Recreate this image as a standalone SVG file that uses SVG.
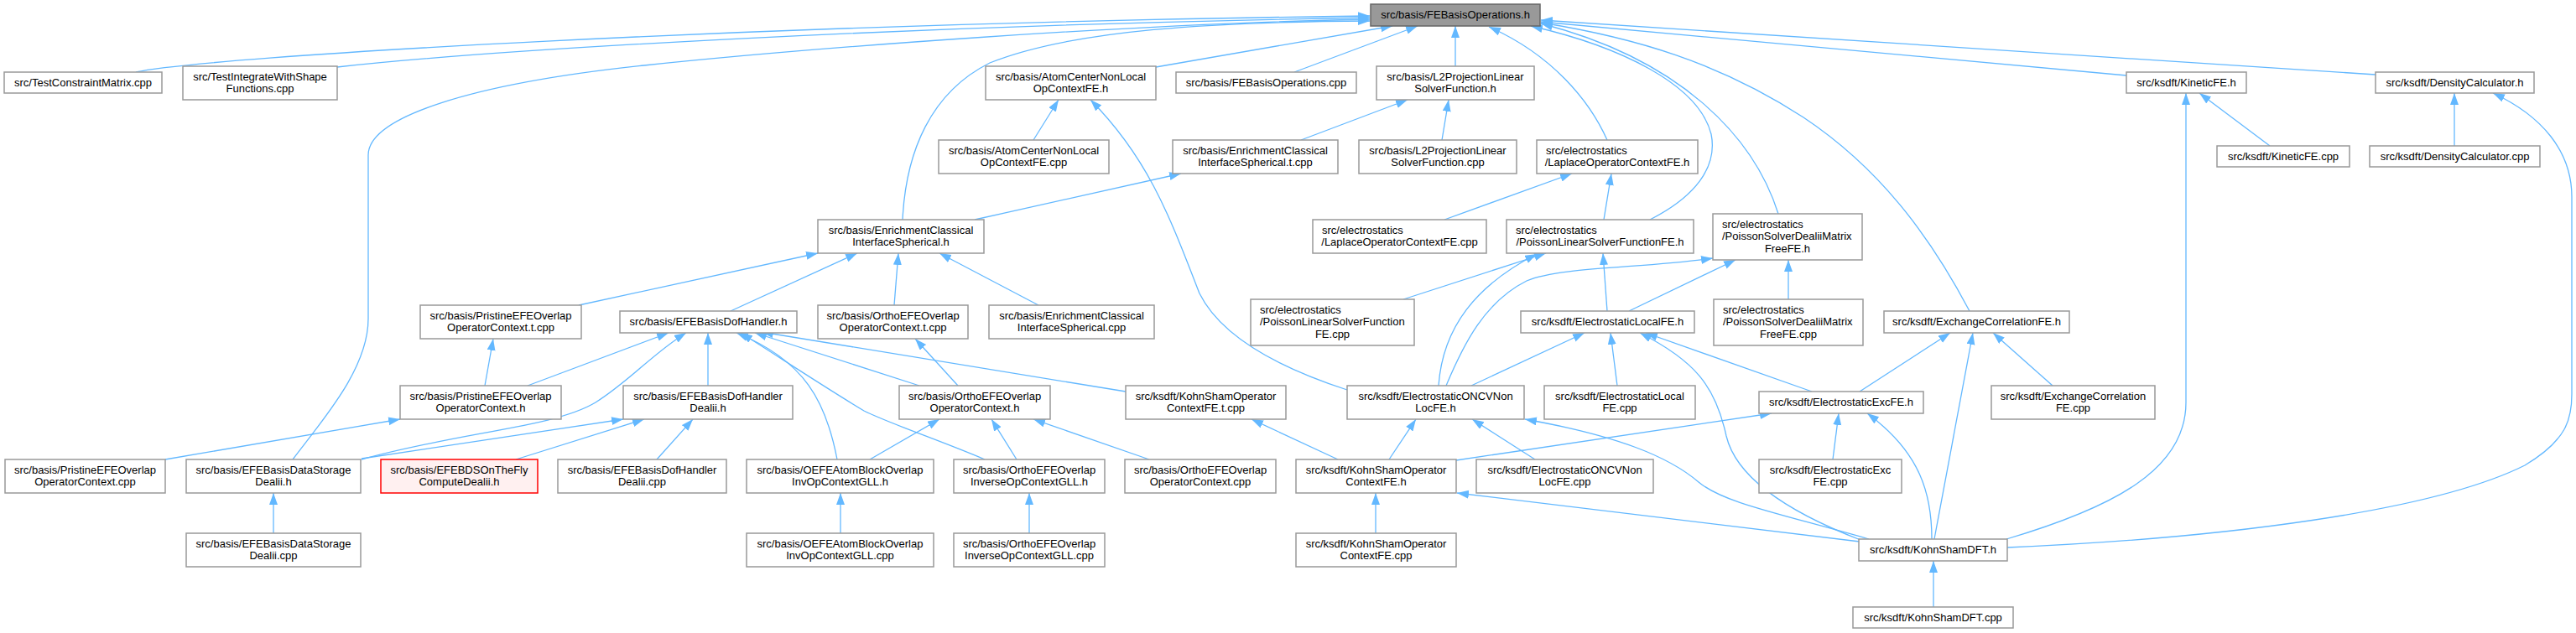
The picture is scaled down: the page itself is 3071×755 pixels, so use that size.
<svg xmlns="http://www.w3.org/2000/svg" width="3071" height="755" viewBox="0 0 3071 755">
<style>
.node rect{fill:#fff;stroke:#999;stroke-width:1.5}
.root rect{fill:#999;stroke:#666}
.red rect{fill:#fff0f0;stroke:#f00}
.node text{font-family:"Liberation Sans",Arial,Helvetica,sans-serif;font-size:13px;fill:#000;text-anchor:middle}
.node text.l{text-anchor:start}
.edges path{fill:none;stroke:#63b8ff;stroke-width:1.3;marker-end:url(#arr)}
</style>
<defs>
<marker id="arr" markerUnits="userSpaceOnUse" markerWidth="15" markerHeight="11" refX="14" refY="5" orient="auto"><path d="M0,0 L14,5 L0,10 z" fill="#63b8ff" stroke="none"/></marker>
</defs>
<rect width="3071" height="755" fill="#fff"/>
<g class="edges" id="edges">
<path d="M162,86 C240,68 900,28 1633,19"/>
<path d="M402,80 C600,58 1100,30 1633,21"/>
<path d="M349,548 C385,500 439,440 439,380 L439,185 C439,140 560,100 768,78 C968,57 1350,28 1633,23"/>
<path d="M1076,262 C1080,180 1110,110 1180,75 C1280,35 1450,26 1633,25"/>
<path d="M1378,80 L1660,31"/>
<path d="M1543,86 L1690,31"/>
<path d="M1735,79 L1735,31"/>
<path d="M1916,167 C1895,120 1850,65 1775,32"/>
<path d="M1967,262 C2020,235 2048,200 2040,160 C2025,100 1930,55 1825,31"/>
<path d="M2120,255 C2090,160 2000,70 1837,28"/>
<path d="M2348,371 C2300,280 2240,200 2150,140 C2050,75 1950,45 1837,27"/>
<path d="M2535,90 L1837,26"/>
<path d="M2832,89 L1837,24"/>
<path d="M1232,167 L1262,119"/>
<path d="M1606,465 C1520,437 1455,400 1430,350 C1395,260 1370,190 1300,119"/>
<path d="M1162,262 L1408,207"/>
<path d="M1551,167 L1678,119"/>
<path d="M1719,167 L1727,119"/>
<path d="M1722,262 L1874,207"/>
<path d="M1912,262 L1921,207"/>
<path d="M2706,174 L2622,111"/>
<path d="M2392,643 C2520,605 2606,560 2606,480 L2606,111"/>
<path d="M2926,174 L2926,111"/>
<path d="M2393,653 C2650,642 2900,610 3010,555 C3060,525 3066,500 3066,470 L3066,235 C3066,180 3030,138 2972,111"/>
<path d="M690,364 L975,302"/>
<path d="M871,371 L1022,302"/>
<path d="M1066,364 L1071,302"/>
<path d="M1238,364 L1120,302"/>
<path d="M1673,357 L1843,302"/>
<path d="M1715,460 C1720,390 1760,340 1832,303"/>
<path d="M1724,460 C1745,410 1770,360 1820,335 C1860,318 1960,320 2042,308"/>
<path d="M1916,371 L1911,302"/>
<path d="M1942,371 L2069,310"/>
<path d="M2132,357 L2132,310"/>
<path d="M578,460 L588,404"/>
<path d="M629,460 L797,397"/>
<path d="M197,548 L477,500"/>
<path d="M431,548 C550,515 660,510 710,480 C750,455 780,420 818,397"/>
<path d="M431,547 L743,500"/>
<path d="M615,548 L768,500"/>
<path d="M783,548 L826,500"/>
<path d="M844,460 L844,397"/>
<path d="M998,548 C985,480 960,430 878,397"/>
<path d="M1174,548 C1120,525 1060,505 1030,490 C980,460 920,420 883,397"/>
<path d="M1096,460 L900,397"/>
<path d="M1342,467 L908,396"/>
<path d="M1142,460 L1091,404"/>
<path d="M1037,548 L1120,500"/>
<path d="M1212,548 L1182,500"/>
<path d="M1370,548 L1232,500"/>
<path d="M1002,636 L1002,588"/>
<path d="M1227,636 L1227,588"/>
<path d="M326,636 L326,588"/>
<path d="M1595,548 L1492,500"/>
<path d="M1640,636 L1640,588"/>
<path d="M1754,460 L1889,397"/>
<path d="M1928,460 L1920,397"/>
<path d="M2218,644 C2130,610 2070,570 2058,520 C2045,460 2020,430 1955,397"/>
<path d="M2160,467 L1962,397"/>
<path d="M1656,548 L1688,500"/>
<path d="M1830,548 L1755,500"/>
<path d="M2228,643 C2120,612 2055,600 2025,575 C1990,545 1930,520 1818,500"/>
<path d="M2217,467 L2325,397"/>
<path d="M2447,460 L2376,397"/>
<path d="M2306,643 L2352,397"/>
<path d="M1736,549 L2112,493"/>
<path d="M2185,548 L2192,493"/>
<path d="M2303,643 C2303,590 2290,540 2226,493"/>
<path d="M2217,646 L1737,588"/>
<path d="M2305,724 L2305,669"/>
</g>
<g id="n1" class="node root"><rect x="1634" y="5" width="202" height="26"/><text x="1735" y="22">src/basis/FEBasisOperations.h</text></g>
<g id="n2" class="node"><rect x="5" y="86" width="188" height="25"/><text x="99" y="102.5">src/TestConstraintMatrix.cpp</text></g>
<g id="n3" class="node"><rect x="218" y="79" width="184" height="40"/><text x="310" y="95.5">src/TestIntegrateWithShape</text><text x="310" y="110">Functions.cpp</text></g>
<g id="n4" class="node"><rect x="1175" y="79" width="203" height="40"/><text x="1276.5" y="95.5">src/basis/AtomCenterNonLocal</text><text x="1276.5" y="110">OpContextFE.h</text></g>
<g id="n5" class="node"><rect x="1402" y="86" width="215" height="25"/><text x="1509.5" y="102.5">src/basis/FEBasisOperations.cpp</text></g>
<g id="n6" class="node"><rect x="1641" y="79" width="188" height="40"/><text x="1735" y="95.5">src/basis/L2ProjectionLinear</text><text x="1735" y="110">SolverFunction.h</text></g>
<g id="n7" class="node"><rect x="2535" y="86" width="143" height="25"/><text x="2606.5" y="102.5">src/ksdft/KineticFE.h</text></g>
<g id="n8" class="node"><rect x="2832" y="86" width="189" height="25"/><text x="2926.5" y="102.5">src/ksdft/DensityCalculator.h</text></g>
<g id="n9" class="node"><rect x="1119" y="167" width="203" height="40"/><text x="1220.5" y="183.5">src/basis/AtomCenterNonLocal</text><text x="1220.5" y="198">OpContextFE.cpp</text></g>
<g id="n10" class="node"><rect x="1398" y="167" width="197" height="40"/><text x="1496.5" y="183.5">src/basis/EnrichmentClassical</text><text x="1496.5" y="198">InterfaceSpherical.t.cpp</text></g>
<g id="n11" class="node"><rect x="1620" y="167" width="188" height="40"/><text x="1714" y="183.5">src/basis/L2ProjectionLinear</text><text x="1714" y="198">SolverFunction.cpp</text></g>
<g id="n12" class="node"><rect x="1832" y="167" width="192" height="40"/><text class="l" x="1843" y="183.5">src/electrostatics</text><text x="1928" y="198">/LaplaceOperatorContextFE.h</text></g>
<g id="n13" class="node"><rect x="2643" y="174" width="158" height="25"/><text x="2722" y="190.5">src/ksdft/KineticFE.cpp</text></g>
<g id="n14" class="node"><rect x="2825" y="174" width="203" height="25"/><text x="2926.5" y="190.5">src/ksdft/DensityCalculator.cpp</text></g>
<g id="n15" class="node"><rect x="975" y="262" width="198" height="40"/><text x="1074" y="278.5">src/basis/EnrichmentClassical</text><text x="1074" y="293">InterfaceSpherical.h</text></g>
<g id="n16" class="node"><rect x="1565" y="262" width="207" height="40"/><text class="l" x="1576" y="278.5">src/electrostatics</text><text x="1668.5" y="293">/LaplaceOperatorContextFE.cpp</text></g>
<g id="n17" class="node"><rect x="1796" y="262" width="223" height="40"/><text class="l" x="1807" y="278.5">src/electrostatics</text><text x="1907.5" y="293">/PoissonLinearSolverFunctionFE.h</text></g>
<g id="n18" class="node"><rect x="2042" y="255" width="178" height="55"/><text class="l" x="2053" y="271.5">src/electrostatics</text><text class="l" x="2053" y="286">/PoissonSolverDealiiMatrix</text><text x="2131" y="300.5">FreeFE.h</text></g>
<g id="n19" class="node"><rect x="501" y="364" width="192" height="40"/><text x="597" y="380.5">src/basis/PristineEFEOverlap</text><text x="597" y="395">OperatorContext.t.cpp</text></g>
<g id="n20" class="node"><rect x="739" y="371" width="211" height="26"/><text x="844.5" y="388">src/basis/EFEBasisDofHandler.h</text></g>
<g id="n21" class="node"><rect x="975" y="364" width="179" height="40"/><text x="1064.5" y="380.5">src/basis/OrthoEFEOverlap</text><text x="1064.5" y="395">OperatorContext.t.cpp</text></g>
<g id="n22" class="node"><rect x="1179" y="364" width="197" height="40"/><text x="1277.5" y="380.5">src/basis/EnrichmentClassical</text><text x="1277.5" y="395">InterfaceSpherical.cpp</text></g>
<g id="n23" class="node"><rect x="1491" y="357" width="195" height="55"/><text class="l" x="1502" y="373.5">src/electrostatics</text><text class="l" x="1502" y="388">/PoissonLinearSolverFunction</text><text x="1588.5" y="402.5">FE.cpp</text></g>
<g id="n24" class="node"><rect x="1813" y="371" width="207" height="26"/><text x="1916.5" y="388">src/ksdft/ElectrostaticLocalFE.h</text></g>
<g id="n25" class="node"><rect x="2043" y="357" width="178" height="55"/><text class="l" x="2054" y="373.5">src/electrostatics</text><text class="l" x="2054" y="388">/PoissonSolverDealiiMatrix</text><text x="2132" y="402.5">FreeFE.cpp</text></g>
<g id="n26" class="node"><rect x="2246" y="371" width="221" height="26"/><text x="2356.5" y="388">src/ksdft/ExchangeCorrelationFE.h</text></g>
<g id="n27" class="node"><rect x="477" y="460" width="192" height="40"/><text x="573" y="476.5">src/basis/PristineEFEOverlap</text><text x="573" y="491">OperatorContext.h</text></g>
<g id="n28" class="node"><rect x="743" y="460" width="202" height="40"/><text x="844" y="476.5">src/basis/EFEBasisDofHandler</text><text x="844" y="491">Dealii.h</text></g>
<g id="n29" class="node"><rect x="1072" y="460" width="180" height="40"/><text x="1162" y="476.5">src/basis/OrthoEFEOverlap</text><text x="1162" y="491">OperatorContext.h</text></g>
<g id="n30" class="node"><rect x="1342" y="460" width="191" height="40"/><text x="1437.5" y="476.5">src/ksdft/KohnShamOperator</text><text x="1437.5" y="491">ContextFE.t.cpp</text></g>
<g id="n31" class="node"><rect x="1606" y="460" width="211" height="40"/><text x="1711.5" y="476.5">src/ksdft/ElectrostaticONCVNon</text><text x="1711.5" y="491">LocFE.h</text></g>
<g id="n32" class="node"><rect x="1841" y="460" width="180" height="40"/><text x="1931" y="476.5">src/ksdft/ElectrostaticLocal</text><text x="1931" y="491">FE.cpp</text></g>
<g id="n33" class="node"><rect x="2097" y="467" width="196" height="26"/><text x="2195" y="484">src/ksdft/ElectrostaticExcFE.h</text></g>
<g id="n34" class="node"><rect x="2374" y="460" width="195" height="40"/><text x="2471.5" y="476.5">src/ksdft/ExchangeCorrelation</text><text x="2471.5" y="491">FE.cpp</text></g>
<g id="n35" class="node"><rect x="6" y="548" width="191" height="40"/><text x="101.5" y="564.5">src/basis/PristineEFEOverlap</text><text x="101.5" y="579">OperatorContext.cpp</text></g>
<g id="n36" class="node"><rect x="222" y="548" width="208" height="40"/><text x="326" y="564.5">src/basis/EFEBasisDataStorage</text><text x="326" y="579">Dealii.h</text></g>
<g id="n37" class="node red"><rect x="454" y="548" width="187" height="40"/><text x="547.5" y="564.5">src/basis/EFEBDSOnTheFly</text><text x="547.5" y="579">ComputeDealii.h</text></g>
<g id="n38" class="node"><rect x="665" y="548" width="201" height="40"/><text x="765.5" y="564.5">src/basis/EFEBasisDofHandler</text><text x="765.5" y="579">Dealii.cpp</text></g>
<g id="n39" class="node"><rect x="890" y="548" width="223" height="40"/><text x="1001.5" y="564.5">src/basis/OEFEAtomBlockOverlap</text><text x="1001.5" y="579">InvOpContextGLL.h</text></g>
<g id="n40" class="node"><rect x="1137" y="548" width="180" height="40"/><text x="1227" y="564.5">src/basis/OrthoEFEOverlap</text><text x="1227" y="579">InverseOpContextGLL.h</text></g>
<g id="n41" class="node"><rect x="1341" y="548" width="180" height="40"/><text x="1431" y="564.5">src/basis/OrthoEFEOverlap</text><text x="1431" y="579">OperatorContext.cpp</text></g>
<g id="n42" class="node"><rect x="1545" y="548" width="191" height="40"/><text x="1640.5" y="564.5">src/ksdft/KohnShamOperator</text><text x="1640.5" y="579">ContextFE.h</text></g>
<g id="n43" class="node"><rect x="1760" y="548" width="211" height="40"/><text x="1865.5" y="564.5">src/ksdft/ElectrostaticONCVNon</text><text x="1865.5" y="579">LocFE.cpp</text></g>
<g id="n44" class="node"><rect x="2097" y="548" width="170" height="40"/><text x="2182" y="564.5">src/ksdft/ElectrostaticExc</text><text x="2182" y="579">FE.cpp</text></g>
<g id="n45" class="node"><rect x="2216" y="643" width="177" height="26"/><text x="2304.5" y="660">src/ksdft/KohnShamDFT.h</text></g>
<g id="n46" class="node"><rect x="222" y="636" width="208" height="40"/><text x="326" y="652.5">src/basis/EFEBasisDataStorage</text><text x="326" y="667">Dealii.cpp</text></g>
<g id="n47" class="node"><rect x="890" y="636" width="223" height="40"/><text x="1001.5" y="652.5">src/basis/OEFEAtomBlockOverlap</text><text x="1001.5" y="667">InvOpContextGLL.cpp</text></g>
<g id="n48" class="node"><rect x="1137" y="636" width="180" height="40"/><text x="1227" y="652.5">src/basis/OrthoEFEOverlap</text><text x="1227" y="667">InverseOpContextGLL.cpp</text></g>
<g id="n49" class="node"><rect x="1545" y="636" width="191" height="40"/><text x="1640.5" y="652.5">src/ksdft/KohnShamOperator</text><text x="1640.5" y="667">ContextFE.cpp</text></g>
<g id="n50" class="node"><rect x="2209" y="724" width="191" height="25"/><text x="2304.5" y="740.5">src/ksdft/KohnShamDFT.cpp</text></g>
</svg>
